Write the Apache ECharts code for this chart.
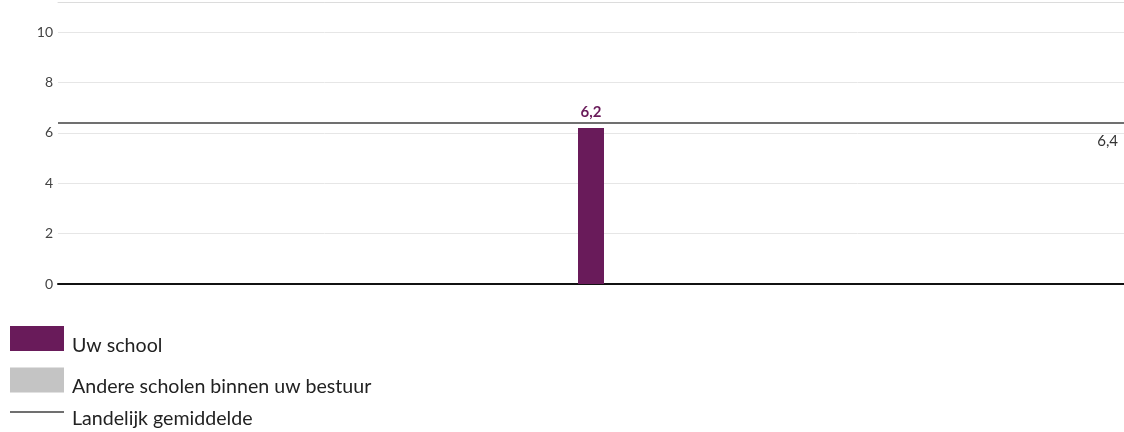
<!DOCTYPE html>
<html>
<head>
<meta charset="utf-8">
<script src="https://cdn.jsdelivr.net/npm/echarts@6/dist/echarts.min.js"></script>
<style>
html,body{margin:0;padding:0;background:#fff;}
#c{width:1124px;height:432px;}
</style>
</head>
<body>
<div id="c"></div>
<script>
const categories = [''];
const schoolValues = [6.2];
const bestuurValues = [];
const nationalAverage = 6.4;
const yTicks = [0, 2, 4, 6, 8, 10];
const seriesNames = ['Uw school', 'Andere scholen binnen uw bestuur', 'Landelijk gemiddelde'];

const fmt = v => String(v).replace('.', ',');
const FONT = 'Lato';

const chart = echarts.init(document.getElementById('c'), null, {renderer: 'canvas'});
chart.setOption({
  animation: false,
  textStyle: {fontFamily: FONT},
  grid: {left: 58, right: 0, top: 2, bottom: 148},
  legend: {
    orient: 'vertical',
    left: 5,
    top: 321,
    itemWidth: 54,
    itemHeight: 25,
    itemGap: 12,
    selectedMode: false,
    formatter: name => '{a|' + name + '}',
    textStyle: {
      fontSize: 19.6, color: '#222', fontFamily: FONT,
      rich: {a: {fontSize: 19.6, color: '#222', fontFamily: FONT, padding: [14, 0, 0, 3]}}
    },
    data: [
      {name: seriesNames[0], icon: 'rect'},
      {name: seriesNames[1], icon: 'rect'},
      {name: seriesNames[2], icon: 'path://M0,0 L54,0 L54,2 L0,2 Z', itemStyle: {color: '#707070'}}
    ]
  },
  xAxis: [{
    type: 'category',
    data: categories,
    axisLine: {show: true, lineStyle: {color: '#111', width: 2}},
    axisTick: {show: false},
    axisLabel: {show: false}
  }, {
    type: 'category',
    data: categories,
    position: 'top',
    axisLine: {show: true, lineStyle: {color: '#dcdcdc', width: 1}},
    axisTick: {show: false},
    axisLabel: {show: false}
  }],
  yAxis: {
    type: 'value',
    min: 0,
    max: 11.2,
    interval: 2,
    axisLine: {show: false},
    axisTick: {show: false},
    splitLine: {lineStyle: {color: '#e6e6e6', width: 1}},
    axisLabel: {
      color: '#444',
      fontSize: 14,
      margin: 5,
      formatter: v => yTicks.includes(v) ? String(v) : ''
    }
  },
  series: [{
    name: seriesNames[0],
    type: 'bar',
    data: schoolValues,
    barWidth: 26,
    barGap: '-100%',
    itemStyle: {color: '#691b5a'},
    label: {
      show: true,
      position: 'top',
      distance: 8,
      color: '#691b5a',
      fontWeight: 'bold',
      fontSize: 15,
      formatter: p => fmt(p.value)
    },
    z: 3
  }, {
    name: seriesNames[1],
    type: 'bar',
    data: bestuurValues,
    barWidth: 26,
    barGap: '-100%',
    itemStyle: {color: '#c4c4c4'}
  }, {
    name: seriesNames[2],
    type: 'line',
    data: [],
    itemStyle: {color: '#707070'},
    lineStyle: {color: '#707070', width: 2},
    markLine: {
      silent: true,
      symbol: ['none', 'none'],
      lineStyle: {color: '#707070', width: 2, type: 'solid'},
      label: {
        show: true,
        position: 'insideEndBottom',
        distance: [6, 11],
        color: '#333',
        fontSize: 15,
        formatter: () => fmt(nationalAverage)
      },
      data: [{yAxis: nationalAverage}]
    },
    z: 4
  }]
});
</script>
</body>
</html>
